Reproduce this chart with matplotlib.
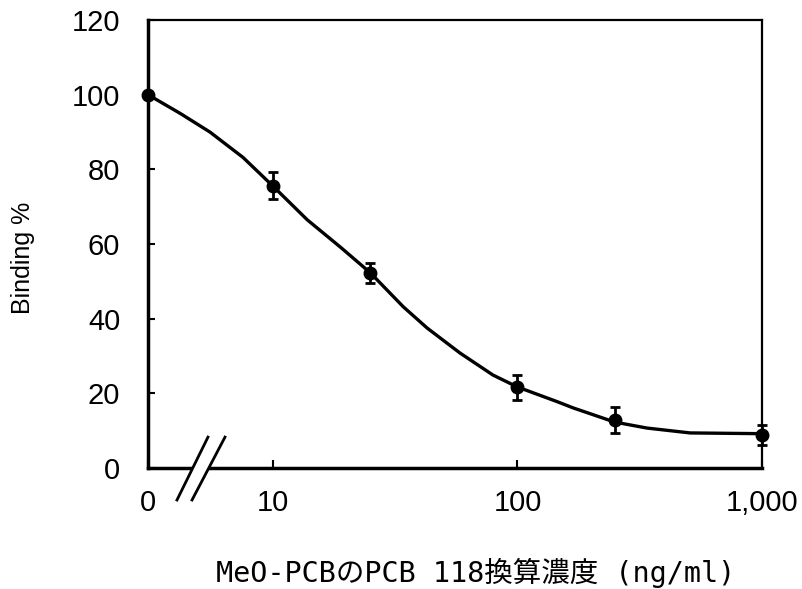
import numpy as np
import matplotlib.pyplot as plt
from matplotlib.patches import Polygon
from matplotlib.ticker import NullLocator

plt.rcParams['font.family'] = ['Liberation Sans', 'Noto Sans CJK JP', 'DejaVu Sans']

# measured points (mean binding % and error)
conc = [0, 10, 25, 100, 250, 1000]
binding = [100, 75.6, 52.3, 21.6, 12.8, 8.8]
err = [0, 3.6, 2.7, 3.3, 3.5, 2.7]

# fitted curve
curve_conc = [0, 4.17, 5.52, 7.54, 10, 13.8, 19, 25, 34.1, 42.7, 58.2, 79.4,
              100, 145, 169, 250, 339, 508, 1000]
curve_binding = [100, 95, 90, 83.2, 75.5, 66.5, 59, 52.3, 43.2, 37.5, 30.8, 24.9,
                 21.7, 17.8, 16.1, 12.3, 10.7, 9.4, 9.2]

xtick_vals = [0, 10, 100, 1000]
xtick_labels = ["0", "10", "100", "1,000"]
ytick_vals = [0, 20, 40, 60, 80, 100, 120]

# "0" sits at the left edge of the log axis (axis is broken there)
x_left = 10 ** (1 - 125 / 244.5)
x_right = 1000


def pos(values):
    v = np.asarray(values, dtype=float)
    return np.where(v == 0, x_left, v)


fig = plt.figure(figsize=(8.03, 5.89), dpi=100)
ax = fig.add_axes([0.1843, 0.2054, 0.7646, 0.7606])

ax.plot(pos(curve_conc), curve_binding, color="black", lw=2.4, zorder=3, clip_on=False)
ax.errorbar(pos(conc), binding, yerr=err, fmt="o", color="black", ms=9,
            elinewidth=2, capsize=3.5, capthick=2, zorder=4, clip_on=False)

ax.set_xscale("log")
ax.set_xlim(x_left, x_right)
ax.set_ylim(0, 120)
ax.set_xticks(pos(xtick_vals))
ax.set_xticklabels(xtick_labels)
ax.xaxis.set_minor_locator(NullLocator())
ax.set_yticks(ytick_vals)

ax.tick_params(axis="both", direction="in", length=5, width=1.5, labelsize=21)
ax.tick_params(axis="x", pad=15, length=6)
ax.tick_params(axis="y", pad=20)

for side in ["left", "bottom"]:
    ax.spines[side].set_linewidth(2.5)
for side in ["top", "right"]:
    ax.spines[side].set_linewidth(1.6)

ax.set_ylabel("Binding %", fontsize=18)
ax.yaxis.set_label_coords(-0.184, 0.47)
ax.set_xlabel("MeO-PCBのPCB 118換算濃度 (ng/ml)", fontsize=20.5,
              family=["DejaVu Sans Mono", "Noto Sans CJK JP"])
ax.xaxis.set_label_coords(0.534, -0.2)

# axis break marks
gap = Polygon([(0.0977, 0.069), (0.1254, 0.069), (0.0717, -0.0714), (0.0472, -0.0714)],
              closed=True, transform=ax.transAxes, facecolor="white",
              edgecolor="none", clip_on=False, zorder=5)
ax.add_patch(gap)
ax.plot([0.0977, 0.0472], [0.069, -0.0714], transform=ax.transAxes,
        color="black", lw=2, clip_on=False, zorder=6)
ax.plot([0.1254, 0.0717], [0.069, -0.0714], transform=ax.transAxes,
        color="black", lw=2, clip_on=False, zorder=6)

fig.savefig("out.png", dpi=100)
